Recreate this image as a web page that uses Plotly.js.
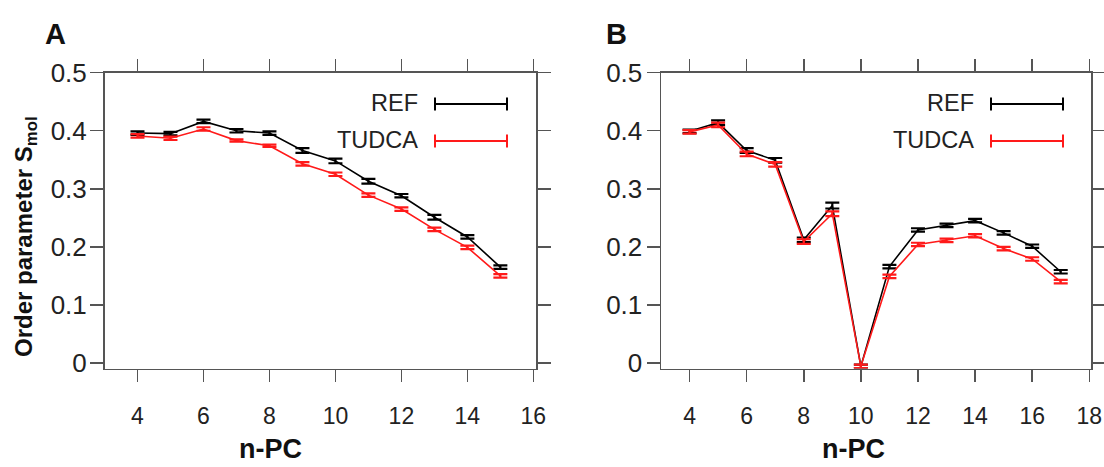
<!DOCTYPE html>
<html>
<head>
<meta charset="utf-8">
<script src="https://cdn.plot.ly/plotly-3.0.1.min.js"></script>
<style>html,body{margin:0;padding:0;background:#fff;}#chart{width:1104px;height:467px;}</style>
</head>
<body>
<div id="chart"></div>
<script>
// ---- data ----
const xA = [4,5,6,7,8,9,10,11,12,13,14,15];
const refA = [0.396,0.395,0.416,0.400,0.396,0.366,0.348,0.313,0.288,0.251,0.217,0.165];
const refAErr = [0.003,0.003,0.003,0.003,0.003,0.004,0.004,0.004,0.003,0.004,0.003,0.003];
const tudcaA = [0.391,0.387,0.403,0.383,0.374,0.343,0.325,0.289,0.265,0.230,0.199,0.150];
const tudcaAErr = [0.003,0.003,0.003,0.002,0.002,0.003,0.003,0.003,0.003,0.003,0.003,0.003];

const xB = [4,5,6,7,8,9,10,11,12,13,14,15,16,17];
const refB = [0.399,0.414,0.366,0.349,0.212,0.271,-0.006,0.166,0.229,0.237,0.245,0.224,0.201,0.157];
const refBErr = [0.003,0.004,0.004,0.004,0.004,0.005,0.003,0.003,0.003,0.003,0.003,0.003,0.003,0.003];
const tudcaB = [0.398,0.410,0.360,0.342,0.209,0.257,-0.006,0.149,0.204,0.211,0.219,0.197,0.179,0.140];
const tudcaBErr = [0.003,0.004,0.004,0.004,0.004,0.004,0.003,0.003,0.003,0.003,0.003,0.003,0.003,0.003];

const yTicks = [0,0.1,0.2,0.3,0.4,0.5];
const yTickText = ['0','0.1','0.2','0.3','0.4','0.5'];
const seriesNames = ['REF','TUDCA'];
const seriesColors = ['#000000','#ff1a1a'];

// ---- helpers ----
const W = 1104, H = 467;
const px = v => v / W;
const py = v => 1 - v / H;
const FONT = 'Liberation Sans, Arial, Helvetica, sans-serif';

function trace(x, y, err, color, xa, ya, name) {
  return {
    x: x, y: y, type: 'scatter', mode: 'lines', name: name,
    xaxis: xa, yaxis: ya, showlegend: false,
    line: {color: color, width: 1.6},
    error_y: {type: 'data', array: err, visible: true, color: color, thickness: 2.2, width: 7}
  };
}

const data = [
  trace(xA, refA, refAErr, seriesColors[0], 'x', 'y', seriesNames[0]),
  trace(xA, tudcaA, tudcaAErr, seriesColors[1], 'x', 'y', seriesNames[1]),
  trace(xB, refB, refBErr, seriesColors[0], 'x2', 'y2', seriesNames[0]),
  trace(xB, tudcaB, tudcaBErr, seriesColors[1], 'x2', 'y2', seriesNames[1])
];

const axCol = '#555555';
function xAxis(domain, range, anchor) {
  return {
    domain: domain, range: range, tick0: 0, dtick: 2, anchor: anchor,
    ticks: 'outside', ticklen: 12, tickwidth: 1.5, tickcolor: axCol,
    showline: true, linecolor: axCol, linewidth: 1.5, mirror: 'ticks',
    showgrid: false, zeroline: false, fixedrange: true,
    ticklabelstandoff: 14,
    tickfont: {family: FONT, size: 23, color: '#222'}
  };
}
function yAxis(domain, anchor, standoff) {
  return {
    domain: domain, range: [-0.0097, 0.5], anchor: anchor,
    tickvals: yTicks, ticktext: yTickText,
    ticks: 'outside', ticklen: 13, tickwidth: 1.5, tickcolor: axCol,
    showline: true, linecolor: axCol, linewidth: 1.5, mirror: 'ticks',
    showgrid: false, zeroline: false, fixedrange: true,
    ticklabelstandoff: standoff,
    tickfont: {family: FONT, size: 26, color: '#222'}
  };
}

const yDom = [1 - 368.5 / H, 1 - 72.7 / H];

// legend (drawn manually: label text left of an error-bar style key)
const shapes = [];
const annotations = [];
function legendKey(textRight, x0, x1, rows) {
  rows.forEach((r, i) => {
    const col = seriesColors[i];
    shapes.push({type: 'line', xref: 'paper', yref: 'paper', x0: px(x0), x1: px(x1), y0: py(r), y1: py(r), line: {color: col, width: 2}});
    shapes.push({type: 'line', xref: 'paper', yref: 'paper', x0: px(x0), x1: px(x0), y0: py(r - 6.5), y1: py(r + 6.5), line: {color: col, width: 2}});
    shapes.push({type: 'line', xref: 'paper', yref: 'paper', x0: px(x1), x1: px(x1), y0: py(r - 6.5), y1: py(r + 6.5), line: {color: col, width: 2}});
    annotations.push({xref: 'paper', yref: 'paper', x: px(textRight), y: py(r - 1.5), xanchor: 'right', yanchor: 'middle',
      text: seriesNames[i], showarrow: false, font: {family: FONT, size: 23.5, color: '#222'}});
  });
}
legendKey(420, 435, 507, [104, 141]);
legendKey(976, 991, 1063, [104, 141]);

// panel letters and titles
annotations.push({xref: 'paper', yref: 'paper', x: px(55.5), y: py(34), xanchor: 'center', yanchor: 'middle', showarrow: false,
  text: '<b>A</b>', font: {family: FONT, size: 29, color: '#111'}});
annotations.push({xref: 'paper', yref: 'paper', x: px(616), y: py(34), xanchor: 'center', yanchor: 'middle', showarrow: false,
  text: '<b>B</b>', font: {family: FONT, size: 29, color: '#111'}});
annotations.push({xref: 'paper', yref: 'paper', x: px(270), y: py(449), xanchor: 'center', yanchor: 'middle', showarrow: false,
  text: '<b>n-PC</b>', font: {family: FONT, size: 27, color: '#111'}});
annotations.push({xref: 'paper', yref: 'paper', x: px(853), y: py(449), xanchor: 'center', yanchor: 'middle', showarrow: false,
  text: '<b>n-PC</b>', font: {family: FONT, size: 27, color: '#111'}});
annotations.push({xref: 'paper', yref: 'paper', x: px(26), y: py(237), xanchor: 'center', yanchor: 'middle', showarrow: false,
  textangle: -90, text: '<b>Order parameter S<sub>mol</sub></b>', font: {family: FONT, size: 24, color: '#111'}});

const layout = {
  width: W, height: H,
  margin: {l: 0, r: 0, t: 0, b: 0, pad: 0},
  paper_bgcolor: '#fff', plot_bgcolor: '#fff',
  showlegend: false,
  xaxis: xAxis([104.5 / W, 536 / W], [3, 16.08], 'y'),
  yaxis: yAxis(yDom, 'x', -2),
  xaxis2: xAxis([661 / W, 1091 / W], [3, 18.06], 'y2'),
  yaxis2: yAxis(yDom, 'x2', -1),
  shapes: shapes,
  annotations: annotations
};

Plotly.newPlot('chart', data, layout, {displayModeBar: false, staticPlot: true});
</script>
</body>
</html>
